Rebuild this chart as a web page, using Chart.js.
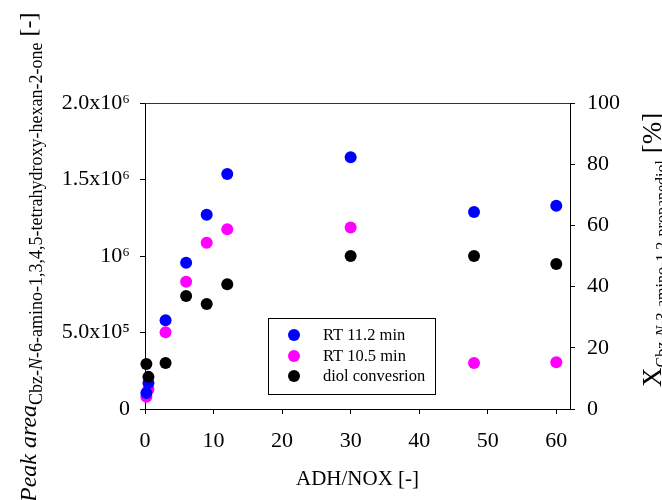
<!DOCTYPE html>
<html><head><meta charset="utf-8">
<script src="https://cdn.jsdelivr.net/npm/chart.js@4/dist/chart.umd.min.js"></script>
<style>html,body{margin:0;padding:0;background:#fff}canvas{display:block}</style>
</head><body>
<canvas id="c" width="662" height="500"></canvas>
<script>
// ---- data ----
const adhNox   = [0.2, 0.5, 3, 6, 9, 12, 30, 48, 60];
const rt112    = [105000, 170000, 580000, 956000, 1270000, 1536000, 1645000, 1288000, 1329000];
const rt105    = [80000, 129000, 501000, 832000, 1087000, 1175000, 1187000, 300000, 305000];
const diolConv = [14.7, 10.5, 15.0, 36.9, 34.3, 40.8, 50.0, 50.0, 47.4];
const seriesNames = ['RT 11.2 min', 'RT 10.5 min', 'diol convesrion'];
const xTicks = [0, 10, 20, 30, 40, 50, 60];
const leftTicks = [0, 500000, 1000000, 1500000, 2000000];
const leftTickLabels = ['0', '5.0x10\u2075', '10\u2076', '1.5x10\u2076', '2.0x10\u2076'];
const rightTicks = [0, 20, 40, 60, 80, 100];
const xTitle = 'ADH/NOX [-]';

const SERIF = '"Liberation Serif", "Times New Roman", serif';
const colors = ['#0000ff', '#ff00ff', '#000000'];

function pts(ys){ return adhNox.map((x,i)=>({x:x, y:ys[i]})); }

function drawRich(ctx, x, y, parts){
  ctx.save();
  ctx.translate(x, y);
  ctx.rotate(-Math.PI/2);
  ctx.textAlign = 'left';
  ctx.textBaseline = 'alphabetic';
  ctx.fillStyle = '#000';
  let cx = 0;
  for (const p of parts){
    ctx.font = p.font;
    ctx.fillText(p.t, cx, p.dy || 0);
    cx += ctx.measureText(p.t).width;
  }
  ctx.restore();
}

const decor = {
  id: 'decor',
  afterDraw(chart){
    const ctx = chart.ctx;
    const a = chart.chartArea;
    ctx.save();
    ctx.strokeStyle = '#333';
    ctx.lineWidth = 1;
    ctx.beginPath();
    ctx.moveTo(a.left, a.top + 0.5);
    ctx.lineTo(a.right, a.top + 0.5);
    ctx.stroke();
    // legend box
    ctx.strokeStyle = '#000';
    ctx.strokeRect(268.5, 318.5, 167, 76);
    const rows = [335, 356, 376];
    ctx.font = '16.5px ' + SERIF;
    ctx.textBaseline = 'middle';
    ctx.textAlign = 'left';
    chart.data.datasets.forEach((ds, i) => {
      ctx.fillStyle = ds.backgroundColor;
      ctx.beginPath();
      ctx.arc(294, rows[i], 6, 0, Math.PI*2);
      ctx.fill();
      ctx.fillStyle = '#000';
      ctx.fillText(ds.label, 323, rows[i] + 1);
    });
    // x title
    ctx.font = '21px ' + SERIF;
    ctx.textAlign = 'center';
    ctx.textBaseline = 'middle';
    ctx.fillText(xTitle, (a.left + a.right)/2, 479);
    ctx.restore();

    // left title
    const mainL = 'italic 24px ' + SERIF, subL = '18px ' + SERIF, subLi = 'italic 18px ' + SERIF;
    drawRich(ctx, 36, 502, [
      {t:'Peak area', font: mainL},
      {t:'Cbz-', font: subL, dy: 6},
      {t:'N', font: subLi, dy: 6},
      {t:'-6-amino-1,3,4,5-tetrahydroxy-hexan-2-one', font: subL, dy: 6},
      {t:' [-]', font: '24px ' + SERIF}
    ]);

    // right title
    const mainR = '27px ' + SERIF, subR = '16px ' + SERIF, subRi = 'italic 16px ' + SERIF;
    drawRich(ctx, 661, 387, [
      {t:'X', font: mainR},
      {t:'Cbz-', font: subR, dy: 6},
      {t:'N', font: subRi, dy: 6},
      {t:'-3-amino-1,2-propanediol', font: subR, dy: 6},
      {t:' [%]', font: mainR}
    ]);
  }
};

new Chart(document.getElementById('c'), {
  type: 'scatter',
  data: {
    datasets: [
      {label: seriesNames[0], data: pts(rt112), yAxisID: 'y', backgroundColor: colors[0], order: 1},
      {label: seriesNames[1], data: pts(rt105), yAxisID: 'y', backgroundColor: colors[1], order: 2},
      {label: seriesNames[2], data: pts(diolConv), yAxisID: 'y2', backgroundColor: colors[2], order: 0}
    ].map(d => Object.assign(d, {pointRadius: 6, pointHoverRadius: 6, borderWidth: 0, pointBorderWidth: 0, clip: false}))
  },
  options: {
    responsive: false,
    animation: false,
    events: [],
    layout: {padding: {top: 103, left: 0, right: 0, bottom: 0}},
    plugins: {legend: {display: false}, tooltip: {enabled: false}, title: {display: false}},
    scales: {
      x: {
        type: 'linear', min: 0, max: 62,
        afterFit(s){ s.height = 91; },
        afterBuildTicks(s){ s.ticks = xTicks.map(v => ({value: v})); },
        grid: {display: true, drawOnChartArea: false, drawTicks: true, tickLength: 5, color: '#000'},
        border: {display: true, color: '#000', width: 1},
        ticks: {color: '#000', font: {family: SERIF, size: 22}, padding: 14, maxRotation: 0}
      },
      y: {
        type: 'linear', position: 'left', min: 0, max: 2000000,
        afterFit(s){ s.width = 145; },
        afterBuildTicks(s){ s.ticks = leftTicks.map(v => ({value: v})); },
        grid: {display: true, drawOnChartArea: false, drawTicks: true, tickLength: 5, color: '#000'},
        border: {display: true, color: '#000', width: 1},
        ticks: {color: '#000', font: {family: SERIF, size: 22}, padding: 10,
          callback: (v) => { const i = leftTicks.indexOf(v); return i >= 0 ? leftTickLabels[i] : ''; }}
      },
      y2: {
        type: 'linear', position: 'right', min: 0, max: 100,
        afterFit(s){ s.width = 92; },
        afterBuildTicks(s){ s.ticks = rightTicks.map(v => ({value: v})); },
        grid: {display: true, drawOnChartArea: false, drawTicks: true, tickLength: 5, color: '#000'},
        border: {display: true, color: '#000', width: 1},
        ticks: {color: '#000', font: {family: SERIF, size: 22}, padding: 12}
      }
    }
  },
  plugins: [decor]
});
</script>
</body></html>
